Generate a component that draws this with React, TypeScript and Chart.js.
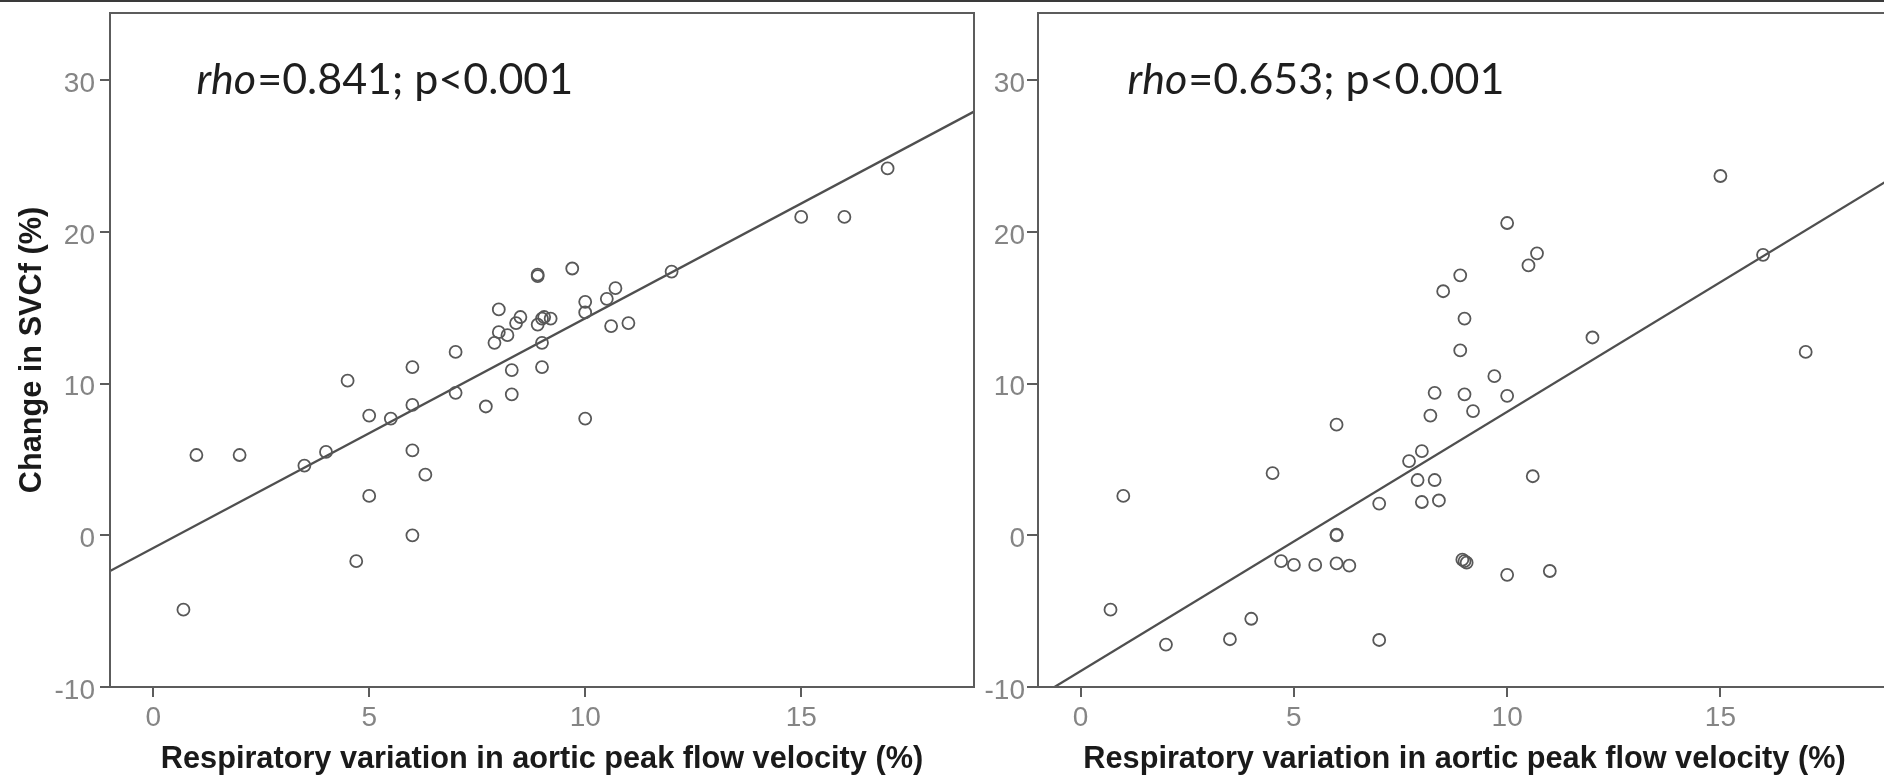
import React, { useEffect, useRef } from "react";
import { Chart, registerables } from "chart.js";

Chart.register(...registerables);

// ---- Data ----
const leftX = [0.7, 1, 2, 3.5, 4, 4.5, 4.7, 5, 5, 5.5, 6, 6, 6, 6, 6.3, 7, 7, 7.7, 7.9, 8, 8, 8.2, 8.3, 8.3, 8.4, 8.5, 8.9, 8.9, 8.9, 9, 9.05, 9, 9, 9.2, 9.7, 10, 10, 10, 10.5, 10.6, 10.7, 11, 12, 15, 16, 17];
const leftY = [-4.9, 5.3, 5.3, 4.6, 5.5, 10.2, -1.7, 7.9, 2.6, 7.7, 11.1, 8.6, 5.6, 0, 4.0, 12.1, 9.4, 8.5, 12.7, 14.9, 13.4, 13.2, 10.9, 9.3, 14.0, 14.4, 17.1, 17.2, 13.9, 14.3, 14.4, 12.7, 11.1, 14.3, 17.6, 15.4, 14.7, 7.7, 15.6, 13.8, 16.3, 14.0, 17.4, 21.0, 21.0, 24.2];

const rightX = [0.7, 1, 2, 3.5, 4, 4.5, 4.7, 5, 5.5, 6, 6, 6, 6, 6.3, 7, 7, 7.7, 7.9, 8, 8, 8.2, 8.3, 8.3, 8.4, 8.5, 8.9, 8.9, 9, 9, 8.95, 9, 9.05, 9.2, 9.7, 10, 10, 10, 10.5, 10.7, 10.6, 11, 12, 15, 16, 17];
const rightY = [-4.9, 2.6, -7.2, -6.85, -5.5, 4.1, -1.7, -1.95, -1.95, 7.3, 0, 0.05, -1.85, -2.0, 2.1, -6.9, 4.9, 3.65, 5.55, 2.2, 7.9, 9.4, 3.65, 2.3, 16.1, 17.15, 12.2, 14.3, 9.3, -1.6, -1.7, -1.8, 8.2, 10.5, 20.6, 9.2, -2.6, 17.8, 18.6, 3.9, -2.35, 13.05, 23.7, 18.5, 12.1];

const leftFit = { slope: 1.515, intercept: -0.84 };
const rightFit = { slope: 1.71, intercept: -8.95 };

const xTicks = [0, 5, 10, 15];
const yTicks = [-10, 0, 10, 20, 30];
const xRange = [-1, 19];
const yRange = [-10, 34.45];

const leftNote = { rho: "0.841", p: "0.001", x: 1.0, y: 30 };
const rightNote = { rho: "0.653", p: "0.001", x: 1.1, y: 30 };

const xTitle = "Respiratory variation in aortic peak flow velocity (%)";
const yTitle = "Change in SVCf (%)";

// ---- Styling ----
const AXIS = "#5c5c5c";
const TICK_COLOR = "#858585";
const TICK_FONT = { family: '"Liberation Sans Narrow", "Arial Narrow", "Liberation Sans", Arial, sans-serif', size: 28 };
const TITLE_FONT = { family: '"Liberation Sans", Arial, sans-serif', size: 30.7, weight: "bold" as const };
const NOTE_FAMILY = 'Lato, "Open Sans", sans-serif';
const NOTE_SIZE = 43;

const boxPlugin = {
  id: "plotBox",
  afterDraw(chart: any) {
    const { ctx, chartArea } = chart;
    ctx.save();
    ctx.strokeStyle = AXIS;
    ctx.lineWidth = 2;
    ctx.strokeRect(chartArea.left, chartArea.top, chartArea.right - chartArea.left, chartArea.bottom - chartArea.top);
    ctx.restore();
  },
};

function notePlugin(note: { rho: string; p: string; x: number; y: number }) {
  return {
    id: "rhoNote",
    afterDraw(chart: any) {
      const { ctx, scales } = chart;
      const px = scales.x.getPixelForValue(note.x);
      const py = scales.y.getPixelForValue(note.y);
      ctx.save();
      ctx.fillStyle = "#1e1e1e";
      ctx.textBaseline = "middle";
      ctx.textAlign = "left";
      ctx.font = `italic ${NOTE_SIZE}px ${NOTE_FAMILY}`;
      ctx.fillText("rho", px, py);
      const w = ctx.measureText("rho").width;
      ctx.font = `${NOTE_SIZE}px ${NOTE_FAMILY}`;
      ctx.fillText(`=${note.rho}; p<${note.p}`, px + w + 1, py);
      ctx.restore();
    },
  };
}

function buildConfig(
  xs: number[],
  ys: number[],
  fit: { slope: number; intercept: number },
  note: { rho: string; p: string; x: number; y: number },
  opts: { yWidth: number; padRight: number; showYTitle: boolean; yTickLen: number; yPad: number }
): any {
  const points = xs.map((x, i) => ({ x, y: ys[i] }));
  const linePts = xRange.map((x) => ({ x, y: fit.intercept + fit.slope * x }));
  return {
    type: "scatter",
    data: {
      datasets: [
        {
          type: "line",
          data: linePts,
          borderColor: "#4f4f4f",
          borderWidth: 2.3,
          pointRadius: 0,
          fill: false,
          order: 2,
        },
        {
          type: "scatter",
          data: points,
          pointRadius: 6,
          pointBorderWidth: 1.8,
          pointBorderColor: "#585858",
          pointBackgroundColor: "rgba(0,0,0,0)",
          order: 1,
        },
      ],
    },
    options: {
      animation: false,
      responsive: false,
      maintainAspectRatio: false,
      devicePixelRatio: 1,
      layout: { padding: { left: 0, right: opts.padRight, top: 13, bottom: 0 } },
      plugins: { legend: { display: false }, tooltip: { enabled: false } },
      scales: {
        x: {
          type: "linear",
          min: xRange[0],
          max: xRange[1],
          afterBuildTicks: (s: any) => {
            s.ticks = xTicks.map((v) => ({ value: v }));
          },
          afterFit: (s: any) => {
            s.height = 92;
            s.paddingLeft = 0;
            s.paddingRight = 0;
          },
          grid: { display: true, drawOnChartArea: false, drawTicks: true, tickLength: 10, color: AXIS, lineWidth: 2 },
          border: { display: true, color: AXIS, width: 2 },
          ticks: { font: TICK_FONT, color: TICK_COLOR, padding: 4, maxRotation: 0, callback: (v: any) => String(v) },
          title: { display: true, text: xTitle, font: TITLE_FONT, color: "#1a1a1a", padding: { top: 0, bottom: 1 } },
        },
        y: {
          type: "linear",
          min: yRange[0],
          max: yRange[1],
          afterBuildTicks: (s: any) => {
            s.ticks = yTicks.map((v) => ({ value: v }));
          },
          afterFit: (s: any) => {
            s.width = opts.yWidth;
            s.paddingTop = 0;
            s.paddingBottom = 0;
          },
          grid: { display: true, drawOnChartArea: false, drawTicks: true, tickLength: opts.yTickLen, color: AXIS, lineWidth: 2 },
          border: { display: true, color: AXIS, width: 2 },
          ticks: { font: TICK_FONT, color: TICK_COLOR, padding: opts.yPad, labelOffset: 4, callback: (v: any) => String(v) },
          title: { display: opts.showYTitle, text: yTitle, font: TITLE_FONT, color: "#1a1a1a", padding: { top: 14, bottom: 0 } },
        },
      },
    },
    plugins: [boxPlugin, notePlugin(note)],
  };
}

export default function App() {
  const leftRef = useRef<HTMLCanvasElement>(null);
  const rightRef = useRef<HTMLCanvasElement>(null);

  useEffect(() => {
    const left = new Chart(
      leftRef.current as HTMLCanvasElement,
      buildConfig(leftX, leftY, leftFit, leftNote, { yWidth: 110, padRight: 26, showYTitle: true, yTickLen: 10, yPad: 5 })
    );
    const right = new Chart(
      rightRef.current as HTMLCanvasElement,
      buildConfig(rightX, rightY, rightFit, rightNote, { yWidth: 78, padRight: 9, showYTitle: false, yTickLen: 11, yPad: 2 })
    );
    return () => {
      left.destroy();
      right.destroy();
    };
  }, []);

  return (
    <div
      style={{
        position: "fixed",
        left: 0,
        top: 0,
        width: 1884,
        height: 779,
        overflow: "hidden",
        background: "#ffffff",
      }}
    >
      <canvas ref={leftRef} width={1000} height={779} style={{ position: "absolute", left: 0, top: 0 }} />
      <canvas ref={rightRef} width={940} height={779} style={{ position: "absolute", left: 960, top: 0 }} />
      <div style={{ position: "absolute", left: 0, top: 0, width: 1884, height: 2, background: "#3a3a3a" }} />
    </div>
  );
}
